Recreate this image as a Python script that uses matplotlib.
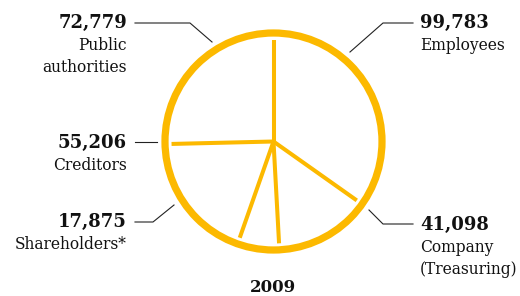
import numpy as np
import matplotlib
matplotlib.use('Agg')
import matplotlib.pyplot as plt

categories = ['Employees', 'Company\n(Treasuring)', 'Shareholders*', 'Creditors', 'Public\nauthorities']
values = [99783, 41098, 17875, 55206, 72779]
year = '2009'

gold = '#FCB900'
dark = '#222222'

fig = plt.figure(figsize=(5.2, 2.96), dpi=100)
ax = fig.add_axes([0, 0, 1, 1])
ax.set_xlim(0, 520)
ax.set_ylim(296, 0)
ax.axis('off')

cx, cy, r = 273.5, 141.5, 108.5

# outer ring
ring = plt.Circle((cx, cy), r, fill=False, edgecolor=gold, linewidth=5.2)
ax.add_patch(ring)

# radial separators, clockwise from 12 o'clock
bounds = np.concatenate([[0], np.cumsum(values)]) / sum(values) * 2 * np.pi
for a in bounds[:-1]:
    ax.plot([cx, cx + 0.94 * r * np.sin(a)], [cy, cy - 0.94 * r * np.cos(a)],
            color=gold, lw=2.9, solid_capstyle='butt')

# label layout: (leader points, text x, number y, alignment)
layout = {
    'Employees': ([(350, 52), (383, 23), (413, 23)], 420, 23, 'left'),
    'Company\n(Treasuring)': ([(369, 210), (383, 224), (413, 224)], 420, 225, 'left'),
    'Shareholders*': ([(174, 205), (153, 222), (135, 222)], 127, 222, 'right'),
    'Creditors': ([(157, 142), (135, 142)], 127, 143, 'right'),
    'Public\nauthorities': ([(212, 42), (190, 23), (135, 23)], 127, 23, 'right'),
}

for cat, val in zip(categories, values):
    pts, tx, ty, ha = layout[cat]
    xs, ys = zip(*pts)
    ax.plot(xs, ys, color=dark, lw=0.8)
    ax.text(tx, ty, f'{val:,}', ha=ha, va='center', fontsize=13, fontweight='bold',
            family='DejaVu Serif', color='#111111')
    ax.text(tx, ty + 14, cat, ha=ha, va='top', fontsize=11.2, family='DejaVu Serif',
            color='#111111', linespacing=1.4)

ax.text(cx - 1, 288, year, ha='center', va='center', fontsize=12, fontweight='bold',
        family='DejaVu Serif', color='#111111')

fig.savefig('out.png', dpi=100)
